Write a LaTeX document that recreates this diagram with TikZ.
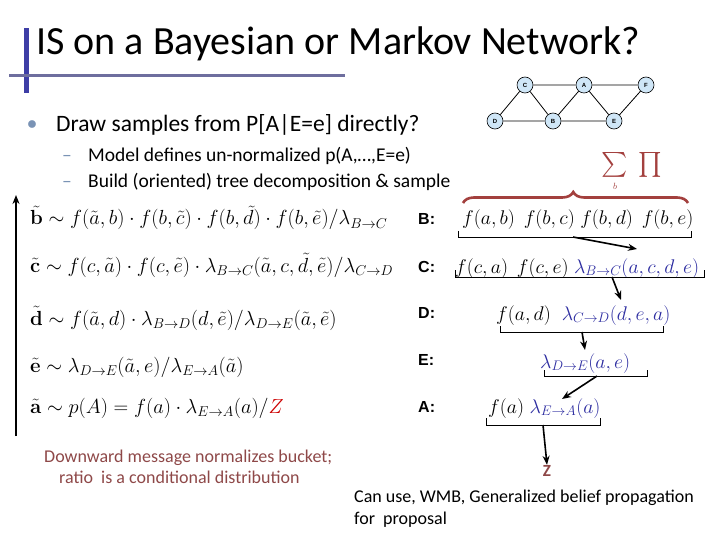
\RequirePackage{fix-cm}
\documentclass[tikz,border=0pt]{standalone}
\usepackage{amsmath}
\usepackage[no-math]{fontspec}
\setmainfont{Carlito}
\newfontfamily\arialfont{Liberation Sans}
\usetikzlibrary{decorations.pathreplacing,arrows.meta}
\definecolor{titlebar}{HTML}{3E3EA6}
\definecolor{hbar}{HTML}{6E6E9E}
\definecolor{bulletc}{HTML}{7A93B5}
\definecolor{brownred}{HTML}{A3403E}
\definecolor{browntext}{HTML}{8E4848}
\definecolor{lblue}{HTML}{2C2CA0}
\definecolor{nodefill}{HTML}{CFE6F7}
\begin{document}
\begin{tikzpicture}[x=1pt,y=-1pt,
  gnode/.style={circle,draw=black,line width=0.6pt,fill=nodefill,minimum size=16pt,inner sep=0pt,font=\arialfont\fontsize{6}{7}\selectfont\bfseries},
  gedge/.style={line width=0.8pt},
  eqn/.style={anchor=base west,inner sep=0pt,font=\fontsize{20.4}{24}\selectfont},
  bmath/.style={anchor=base west,inner sep=0pt,font=\fontsize{19.8}{23}\selectfont},
  blabel/.style={anchor=base west,inner sep=0pt,font=\arialfont\bfseries\fontsize{16}{19}\selectfont},
  bracket/.style={line width=1pt},
  msg/.style={line width=1.6pt,-{Stealth[length=9pt,width=7pt]}},
  txt/.style={anchor=base west,inner sep=0pt}]
\useasboundingbox (0,0) rectangle (720,540);
% title
\fill[titlebar] (24,28) rectangle (29,93);
\fill[hbar] (9,74) rectangle (345,77.5);
\node[txt,font=\fontsize{40}{44}\selectfont] (title) at (36,55) {IS on a Bayesian or Markov Network?};
% graph
\node[gnode] (C) at (525,85) {C};
\node[gnode] (A) at (584,85) {A};
\node[gnode] (F) at (646,85) {F};
\node[gnode] (D) at (495,121) {D};
\node[gnode] (B) at (553,121) {B};
\node[gnode] (E) at (614,121) {E};
\draw[gedge] (C)--(A) (A)--(F) (C)--(D) (C)--(B) (A)--(B) (A)--(E) (F)--(E) (D)--(B) (B)--(E);
% bullets
\node[txt,text=bulletc,font=\fontsize{20}{24}\selectfont] (b1) at (27,130) {$\bullet$};
\node[txt,font=\fontsize{23.5}{27}\selectfont] (t1) at (56,132) {Draw samples from P[A|E=e] directly?};
\node[txt,text=bulletc,font=\fontsize{19.5}{23}\selectfont] (d1) at (62,162) {--};
\node[txt,font=\fontsize{19.5}{23}\selectfont] (t2) at (88,162) {Model defines un-normalized p(A,…,E=e)};
\node[txt,text=bulletc,font=\fontsize{19.5}{23}\selectfont] (d2) at (62,188) {--};
\node[txt,font=\fontsize{19.5}{23}\selectfont] (t3) at (88,188) {Build (oriented) tree decomposition \& sample};
% sum prod and brace
\node[anchor=base west,inner sep=0pt,text=brownred,font=\fontsize{24}{28}\selectfont] (sum) at (601,171) {$\sum$};
\node[anchor=base west,inner sep=0pt,text=brownred,font=\fontsize{24}{28}\selectfont] (prod) at (638,171) {$\prod$};
\node[anchor=base,inner sep=0pt,text=brownred,font=\fontsize{9}{10}\selectfont] (sb) at (615,190) {$b$};
\coordinate (brL) at (463,203);
\coordinate (brR) at (688,203);
\draw[brownred,line width=2.6pt,decorate,decoration={brace,amplitude=11pt,aspect=0.49}] (brL) -- (brR);
% left arrow
\coordinate (la0) at (16,436);
\coordinate (la1) at (16,195);
\draw[line width=2pt,-{Stealth[length=9pt,width=7pt]}] (la0) -- (la1);
% equations
\node[eqn] (e1) at (30,225) {$\tilde{\mathbf{b}} \sim f(\tilde a,b)\cdot f(b,\tilde c)\cdot f(b,\tilde d)\cdot f(b,\tilde e)/\lambda_{B\to C}$};
\node[eqn] (e2) at (30,272) {$\tilde{\mathbf{c}} \sim f(c,\tilde a)\cdot f(c,\tilde e)\cdot \lambda_{B\to C}(\tilde a,c,\tilde d,\tilde e)/\lambda_{C\to D}$};
\node[eqn] (e3) at (30,325) {$\tilde{\mathbf{d}} \sim f(\tilde a,d)\cdot \lambda_{B\to D}(d,\tilde e)/\lambda_{D\to E}(\tilde a,\tilde e)$};
\node[eqn] (e4) at (30,372) {$\tilde{\mathbf{e}} \sim \lambda_{D\to E}(\tilde a,e)/\lambda_{E\to A}(\tilde a)$};
\node[eqn] (e5) at (30,413) {$\tilde{\mathbf{a}} \sim p(A) = f(a)\cdot \lambda_{E\to A}(a)/\textcolor{red!80!black}{Z}$};
% bucket labels
\node[blabel] (lB) at (418,225) {B:};
\node[blabel] (lC) at (418,272) {C:};
\node[blabel] (lD) at (418,318) {D:};
\node[blabel] (lE) at (418,365) {E:};
\node[blabel] (lA) at (418,412) {A:};
% bucket contents
\node[bmath] (bB) at (462,225) {$f(a,b)\;\,f(b,c)\;f(b,d)\;\,f(b,e)$};
\node[bmath] (bC) at (455,273) {$f(c,a)\;\,f(c,e)\;\textcolor{lblue}{\lambda_{B\to C}(a,c,d,e)}$};
\node[bmath] (bD) at (496,320) {$f(a,d)\;\;\textcolor{lblue}{\lambda_{C\to D}(d,e,a)}$};
\node[bmath] (bE) at (540,368) {$\textcolor{lblue}{\lambda_{D\to E}(a,e)}$};
\node[bmath] (bA) at (488,413) {$f(a)\;\textcolor{lblue}{\lambda_{E\to A}(a)}$};
% brackets
\draw[bracket] (458,231) -- (458,237) -- (691,237) -- (691,231);
\draw[bracket] (455,270) -- (455,277) -- (704,277) -- (704,270);
\draw[bracket] (500,326) -- (500,332) -- (663,332) -- (663,326);
\draw[bracket] (544,370) -- (544,376) -- (647,376) -- (647,370);
\draw[bracket] (486,418) -- (486,425) -- (600,425) -- (600,418);
% message arrows
\coordinate (mB0) at (573,237);
\coordinate (mB1) at (637,249);
\coordinate (mC0) at (612,277);
\coordinate (mC1) at (621,300);
\coordinate (mD0) at (582,332);
\coordinate (mD1) at (585,350);
\coordinate (mE0) at (597,376);
\coordinate (mE1) at (562,399);
\coordinate (mA0) at (543,425);
\draw[msg] (mB0) -- (mB1);
\draw[msg] (mC0) -- (mC1);
\draw[msg] (mD0) -- (mD1);
\draw[msg] (mE0) -- (mE1);
\node[anchor=base,inner sep=0pt,text=browntext,font=\fontsize{17}{20}\selectfont\bfseries] (Z) at (547,476) {Z};
\draw[msg] (mA0) -- (Z.north);
% bottom texts
\node[txt,text=browntext,font=\fontsize{18}{21}\selectfont] (n1) at (44,462) {Downward message normalizes bucket;};
\node[txt,text=browntext,font=\fontsize{18}{21}\selectfont] (n2) at (59,483) {ratio\ \ is a conditional distribution};
\node[txt,font=\fontsize{18}{21}\selectfont] (n3) at (354,502) {Can use, WMB, Generalized belief propagation};
\node[txt,font=\fontsize{18}{21}\selectfont] (n4) at (354,524) {for\ \ proposal};
\end{tikzpicture}
\end{document}
